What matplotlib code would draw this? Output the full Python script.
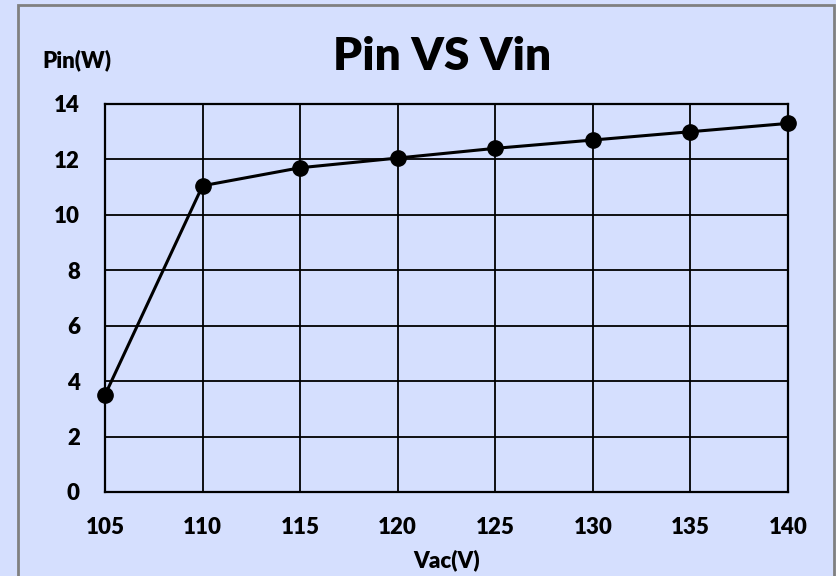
import matplotlib.pyplot as plt
from matplotlib.patches import Rectangle

vac = [105, 110, 115, 120, 125, 130, 135, 140]
pin = [3.5, 11.05, 11.7, 12.05, 12.4, 12.7, 13.0, 13.3]
xticks = [105, 110, 115, 120, 125, 130, 135, 140]
yticks = [0, 2, 4, 6, 8, 10, 12, 14]

bg = '#d5dffe'
plt.rcParams['font.family'] = ['Lato', 'DejaVu Sans']
plt.rcParams['font.weight'] = 'heavy'

fig = plt.figure(figsize=(8.36, 5.76), dpi=100, facecolor=bg)
ax = fig.add_axes([105/836, 1-492/576, 683/836, 388/576], facecolor=bg)

ax.plot(vac, pin, color='black', linewidth=2.2, marker='o', markersize=11, clip_on=False, zorder=3)

ax.set_xlim(105, 140)
ax.set_ylim(0, 14)
ax.set_xticks(xticks)
ax.set_yticks(yticks)
ax.set_xticklabels([str(v) for v in xticks], fontsize=16, fontweight='heavy')
ax.set_yticklabels([str(v) for v in yticks], fontsize=16, fontweight='heavy')
ax.tick_params(axis='x', length=0, pad=18)
ax.tick_params(axis='y', length=0, pad=18)
ax.grid(True, color='black', linewidth=1.3)
for s in ax.spines.values():
    s.set_color('black')
    s.set_linewidth(1.6)

fig.text(442/836, 1-57/576, 'Pin VS Vin', ha='center', va='center', fontsize=33, fontweight='heavy')
fig.text(77/836, 1-60/576, 'Pin(W)', ha='center', va='center', fontsize=16, fontweight='heavy')
fig.text(447/836, 1-560/576, 'Vac(V)', ha='center', va='center', fontsize=16, fontweight='heavy')

fig.patches.append(Rectangle((18/836, -0.01), 816/836, 1-5/576+0.01, transform=fig.transFigure,
                             fill=False, edgecolor='#808080', linewidth=2))

fig.savefig('out.png', dpi=100, facecolor=bg)
